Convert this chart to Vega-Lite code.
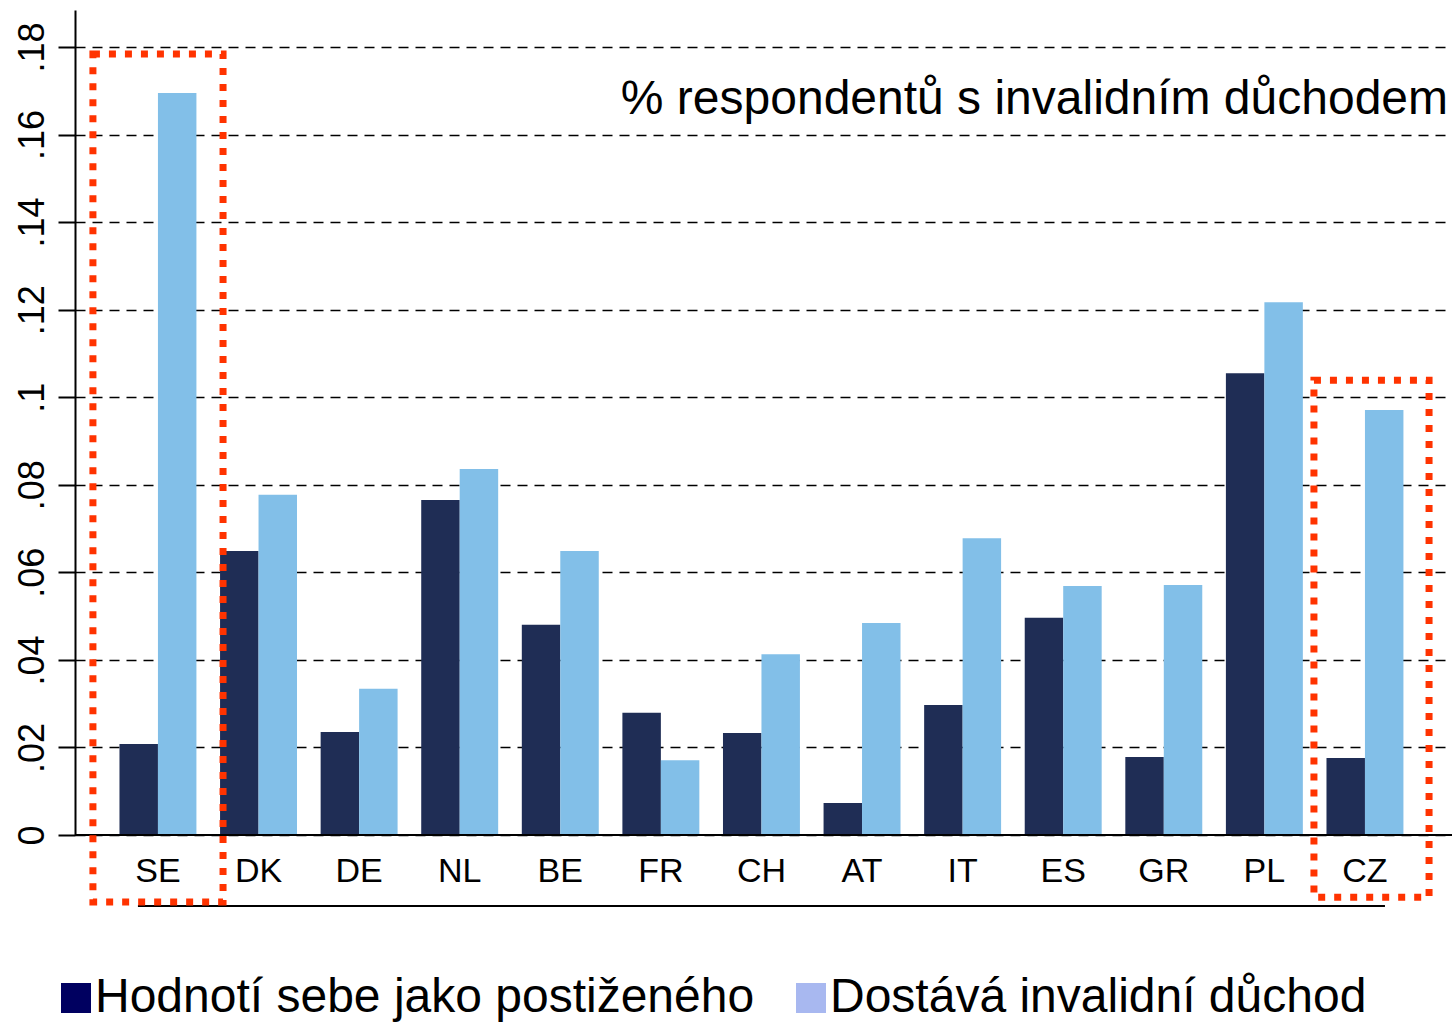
{
  "$schema": "https://vega.github.io/schema/vega-lite/v6.json",
  "width": 1377,
  "height": 825,
  "autosize": {"type": "none"},
  "padding": {"left": 75, "top": 10, "right": 0, "bottom": 187},
  "background": "white",
  "config": {"view": {"stroke": null}, "font": "Liberation Sans"},
  "title": {"text": "% respondentů s invalidním důchodem", "anchor": "end", "frame": "group", "orient": "top", "offset": -152, "baseline": "alphabetic", "fontSize": 48, "fontWeight": "normal", "font": "Liberation Sans", "color": "black", "dx": -4},
  "datasets": {
    "bars": [
      {"country": "SE", "series": "Hodnotí sebe jako postiženého", "value": 0.0208},
      {"country": "SE", "series": "Dostává invalidní důchod", "value": 0.1695},
      {"country": "DK", "series": "Hodnotí sebe jako postiženého", "value": 0.0649},
      {"country": "DK", "series": "Dostává invalidní důchod", "value": 0.0777},
      {"country": "DE", "series": "Hodnotí sebe jako postiženého", "value": 0.0235},
      {"country": "DE", "series": "Dostává invalidní důchod", "value": 0.0334},
      {"country": "NL", "series": "Hodnotí sebe jako postiženého", "value": 0.0765},
      {"country": "NL", "series": "Dostává invalidní důchod", "value": 0.0836},
      {"country": "BE", "series": "Hodnotí sebe jako postiženého", "value": 0.048},
      {"country": "BE", "series": "Dostává invalidní důchod", "value": 0.0649},
      {"country": "FR", "series": "Hodnotí sebe jako postiženého", "value": 0.0279},
      {"country": "FR", "series": "Dostává invalidní důchod", "value": 0.0171},
      {"country": "CH", "series": "Hodnotí sebe jako postiženého", "value": 0.0233},
      {"country": "CH", "series": "Dostává invalidní důchod", "value": 0.0413},
      {"country": "AT", "series": "Hodnotí sebe jako postiženého", "value": 0.0073},
      {"country": "AT", "series": "Dostává invalidní důchod", "value": 0.0484},
      {"country": "IT", "series": "Hodnotí sebe jako postiženého", "value": 0.0297},
      {"country": "IT", "series": "Dostává invalidní důchod", "value": 0.0678},
      {"country": "ES", "series": "Hodnotí sebe jako postiženého", "value": 0.0496},
      {"country": "ES", "series": "Dostává invalidní důchod", "value": 0.0569},
      {"country": "GR", "series": "Hodnotí sebe jako postiženého", "value": 0.0178},
      {"country": "GR", "series": "Dostává invalidní důchod", "value": 0.0571},
      {"country": "PL", "series": "Hodnotí sebe jako postiženého", "value": 0.1055},
      {"country": "PL", "series": "Dostává invalidní důchod", "value": 0.1217},
      {"country": "CZ", "series": "Hodnotí sebe jako postiženého", "value": 0.0176},
      {"country": "CZ", "series": "Dostává invalidní důchod", "value": 0.0971}
    ],
    "legendItems": [
      {"item": "Hodnotí sebe jako postiženého"},
      {"item": "Dostává invalidní důchod"}
    ],
    "boxSE": [{"c": "SE", "top": 0.1784, "bottom": -0.0153}],
    "boxCZ": [{"c": "CZ", "top": 0.1039, "bottom": -0.0142}],
    "base": [{"from": "SE", "to": "CZ", "y": -0.0162}],
    "zero": [{"y": 0}]
  },
  "layer": [
    {
      "data": {"name": "bars"},
      "mark": {"type": "bar"},
      "encoding": {
        "x": {
          "field": "country", "type": "nominal",
          "scale": {"domain": ["SE","DK","DE","NL","BE","FR","CH","AT","IT","ES","GR","PL","CZ"], "paddingInner": 0.235, "paddingOuter": 0.4625, "align": 0.478},
          "axis": {"title": null, "domain": false, "ticks": false, "tickSize": 0, "labelAngle": 0, "labelFontSize": 34, "labelPadding": 19, "labelColor": "black", "labelFont": "Liberation Sans", "labelBaseline": "top", "grid": false, "labelOverlap": false}
        },
        "xOffset": {"field": "series", "type": "nominal", "scale": {"domain": ["Hodnotí sebe jako postiženého", "Dostává invalidní důchod"], "paddingInner": 0, "paddingOuter": 0}},
        "y": {
          "field": "value", "type": "quantitative",
          "scale": {"domain": [0, 0.18845], "nice": false},
          "axis": {"title": null, "values": [0, 0.02, 0.04, 0.06, 0.08, 0.1, 0.12, 0.14, 0.16, 0.18], "labelExpr": "datum.value == 0 ? '0' : replace(format(datum.value, '.2~f'), '0.', '.')", "labelAngle": -90, "labelAlign": "center", "labelBaseline": "alphabetic", "labelFontSize": 36, "labelFont": "Liberation Sans", "labelPadding": 15, "labelColor": "black", "labelOverlap": false, "tickSize": 17, "tickColor": "black", "tickWidth": 2, "domainColor": "black", "domainWidth": 2, "grid": true, "gridColor": "black", "gridDash": [10, 7], "gridWidth": 1.5}
        },
        "fill": {
          "field": "series", "type": "nominal",
          "scale": {"range": ["#82bfe8", "#1f2d55"]},
          "legend": null
        }
      }
    },
    {
      "data": {"name": "legendItems"},
      "mark": {"type": "square", "size": 0, "filled": true},
      "encoding": {
        "color": {
          "field": "item", "type": "nominal",
          "scale": {"domain": ["Hodnotí sebe jako postiženého", "Dostává invalidní důchod"], "range": ["#000060", "#a8b8f0"]},
          "legend": {"orient": "none", "legendX": -23, "legendY": 964, "direction": "horizontal", "title": null, "symbolType": "square", "symbolSize": 900, "symbolStrokeWidth": 0, "symbolOpacity": 1, "labelFontSize": 48, "labelFont": "Liberation Sans", "labelColor": "black", "labelOffset": -5, "columnPadding": 32, "labelLimit": 1000}
        }
      }
    },
    {
      "data": {"name": "zero"},
      "mark": {"type": "rule", "color": "black", "strokeWidth": 2},
      "encoding": {"y": {"field": "y", "type": "quantitative"}}
    },
    {
      "data": {"name": "base"},
      "mark": {"type": "rule", "color": "black", "strokeWidth": 2},
      "encoding": {
        "x": {"field": "from", "type": "nominal", "bandPosition": 0.24},
        "x2": {"field": "to", "bandPosition": 0.76},
        "y": {"field": "y", "type": "quantitative"}
      }
    },
    {
      "data": {"name": "boxSE"},
      "mark": {"type": "rect", "fill": "transparent", "stroke": "#ff3300", "strokeWidth": 7, "strokeDash": [7, 9]},
      "encoding": {
        "x": {"field": "c", "type": "nominal", "bandPosition": -0.345},
        "x2": {"field": "c", "bandPosition": 1.346},
        "y": {"field": "top", "type": "quantitative"},
        "y2": {"field": "bottom"}
      }
    },
    {
      "data": {"name": "boxCZ"},
      "mark": {"type": "rect", "fill": "transparent", "stroke": "#ff3300", "strokeWidth": 7, "strokeDash": [7, 9]},
      "encoding": {
        "x": {"field": "c", "type": "nominal", "bandPosition": -0.163},
        "x2": {"field": "c", "bandPosition": 1.333},
        "y": {"field": "top", "type": "quantitative"},
        "y2": {"field": "bottom"}
      }
    }
  ]
}
